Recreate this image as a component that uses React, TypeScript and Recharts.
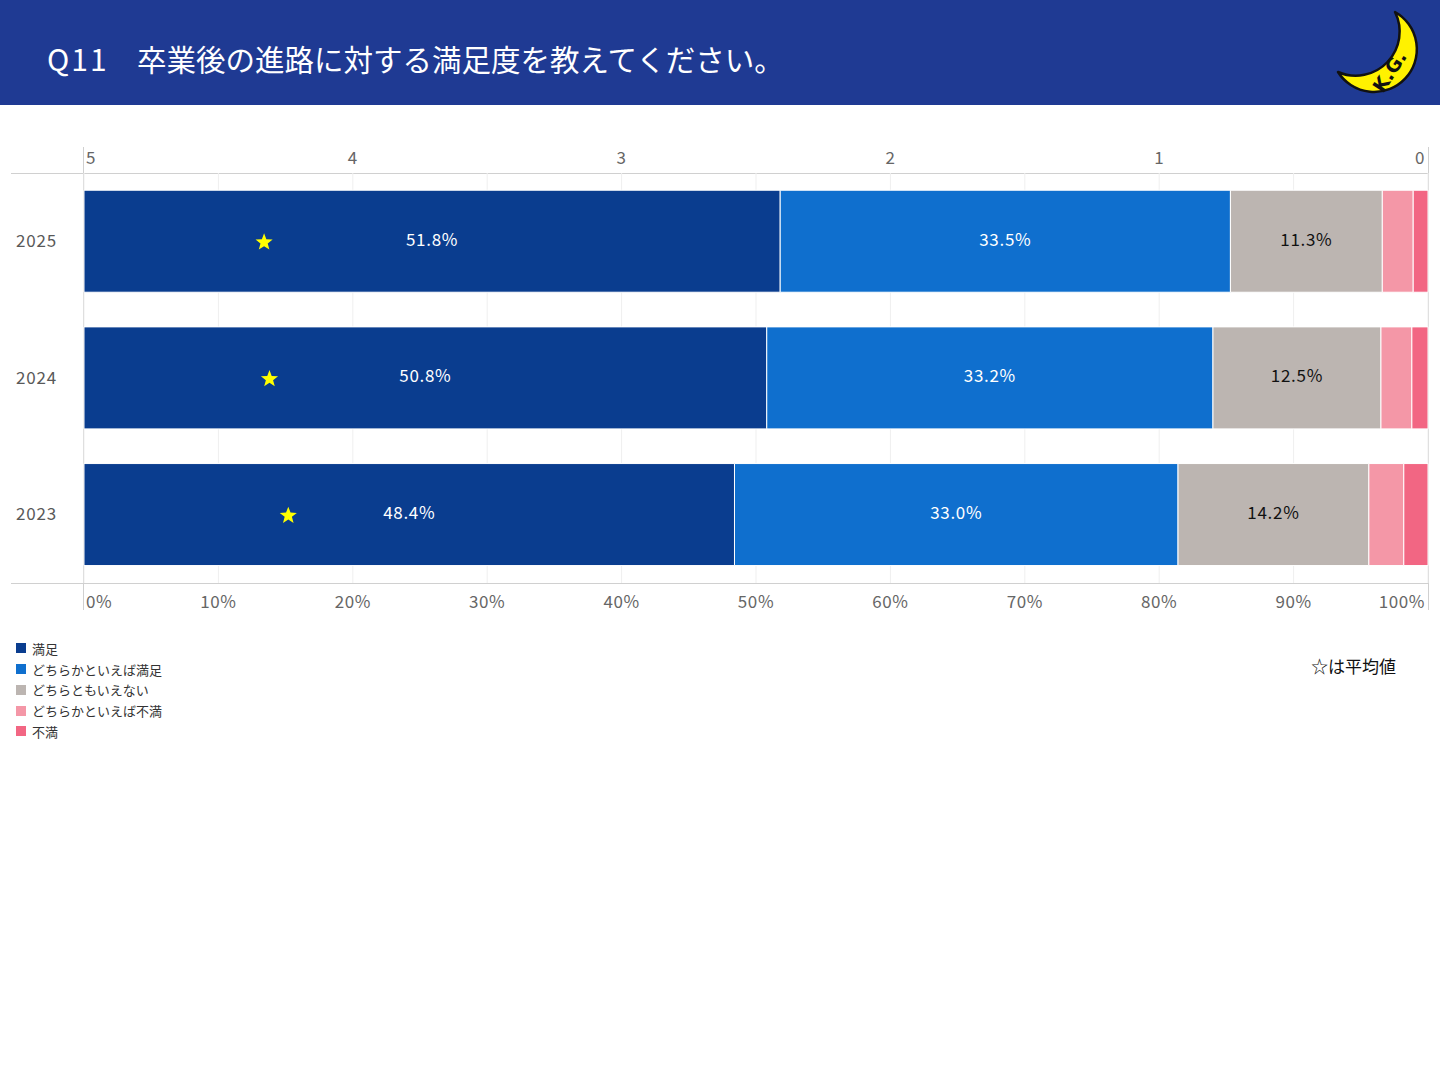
import React from "react";
import { Bar, CartesianGrid, ComposedChart, LabelList, Line, XAxis, YAxis } from "recharts";

const years = ["2025", "2024", "2023"];
const satisfied = [51.8, 50.8, 48.4];
const ratherSatisfied = [33.5, 33.2, 33.0];
const neutral = [11.3, 12.5, 14.2];
const ratherDissatisfied = [2.3, 2.3, 2.6];
const dissatisfied = [1.1, 1.2, 1.8];
const averages = [4.33, 4.31, 4.24];

const pctTicks = [0, 10, 20, 30, 40, 50, 60, 70, 80, 90, 100];
const avgTicks = [0, 1, 2, 3, 4, 5];

const SERIES = [
  { key: "s1", name: "満足", color: "#0a3d8f", label: "#ffffff" },
  { key: "s2", name: "どちらかといえば満足", color: "#0f6fce", label: "#ffffff" },
  { key: "s3", name: "どちらともいえない", color: "#bcb5b1", label: "#111111" },
  { key: "s4", name: "どちらかといえば不満", color: "#f497a7", label: "#111111" },
  { key: "s5", name: "不満", color: "#f26683", label: "#111111" },
];

const rows = years.map((year, i) => ({
  year,
  s1: satisfied[i],
  s2: ratherSatisfied[i],
  s3: neutral[i],
  s4: ratherDissatisfied[i],
  s5: dissatisfied[i],
  avg: averages[i],
}));

const FONT = "'Noto Sans CJK JP', 'Noto Sans', sans-serif";
const AXIS_GREY = "#d0d0d0";

const CHART_TOP = 140;
const CHART_W = 1440;
const TOP_AXIS_H = 33;
const BOTTOM_AXIS_H = 40;
const PLOT_H = 410;

function EdgeTick({ x, y, payload, offset, fmt }: any) {
  let anchor: "start" | "middle" | "end" = "middle";
  let dx = 0;
  if (x < 100) {
    anchor = "start";
    dx = 2;
  } else if (x > 1410) {
    anchor = "end";
    dx = -3;
  }
  return (
    <text
      x={x + dx}
      y={y + offset}
      textAnchor={anchor}
      dominantBaseline="middle"
      fill="#666"
      fontSize={17}
      letterSpacing={0.6}
      fontFamily={FONT}
    >
      {fmt(payload.value)}
    </text>
  );
}

function YearTick({ y, payload }: any) {
  return (
    <text
      x={16}
      y={y + 1}
      dominantBaseline="middle"
      fill="#595959"
      fontSize={17}
      letterSpacing={0.8}
      fontFamily={FONT}
    >
      {payload.value}
    </text>
  );
}

function Star({ cx, cy }: any) {
  if (cx == null || cy == null) return null;
  const pts: string[] = [];
  for (let i = 0; i < 10; i++) {
    const r = i % 2 === 0 ? 9 : 3.8;
    const a = -Math.PI / 2 + (i * Math.PI) / 5;
    pts.push(`${cx + r * Math.cos(a)},${cy + 1 + r * Math.sin(a)}`);
  }
  return <polygon points={pts.join(" ")} fill="#ffff00" />;
}

function makeLabel(color: string) {
  return function SegmentLabel({ x, y, width, height, value }: any) {
    if (value < 5) return null;
    return (
      <text
        x={x + width / 2}
        y={y + height / 2}
        textAnchor="middle"
        dominantBaseline="middle"
        fill={color}
        fontSize={17}
        letterSpacing={0.7}
        fontFamily={FONT}
      >
        {`${value.toFixed(1)}%`}
      </text>
    );
  };
}

function Logo() {
  return (
    <svg width={100} height={105} style={{ position: "absolute", left: 1330, top: 0 }}>
      <path
        d="M65,12 A42.7,42.7 0 1 1 8,72 A44,44 0 0 0 65,12 Z"
        fill="#fff200"
        stroke="#111"
        strokeWidth={2.5}
        strokeLinejoin="round"
      />
      <text
        x={53}
        y={94}
        transform="rotate(-57 53 94)"
        fontSize={19}
        fontWeight="bold"
        fontFamily="'DejaVu Sans', sans-serif"
        fill="#111"
      >
        K.G.
      </text>
    </svg>
  );
}

const line = (style: React.CSSProperties) => (
  <div style={{ position: "absolute", background: AXIS_GREY, ...style }} />
);

export default function App() {
  const plotTop = CHART_TOP + TOP_AXIS_H;
  const plotBottom = plotTop + PLOT_H;
  return (
    <div style={{ position: "relative", width: 1440, height: 1080, background: "#fff", fontFamily: FONT }}>
      <style>{"body{margin:0}"}</style>
      <div
        style={{
          position: "absolute",
          left: 0,
          top: 0,
          width: 1440,
          height: 105,
          background: "#1f3a93",
        }}
      >
        <div
          style={{
            position: "absolute",
            left: 47,
            top: 36,
            color: "#fff",
            fontSize: 30,
            lineHeight: "44px",
            letterSpacing: 2,
            whiteSpace: "nowrap",
          }}
        >
          Q11
        </div>
        <div
          style={{
            position: "absolute",
            left: 137,
            top: 36,
            color: "#fff",
            fontSize: 29.5,
            lineHeight: "44px",
            whiteSpace: "nowrap",
          }}
        >
          卒業後の進路に対する満足度を教えてください。
        </div>
        <Logo />
      </div>

      {line({ left: 11, top: plotTop, width: 1417, height: 1 })}
      {line({ left: 11, top: plotBottom, width: 1417, height: 1 })}
      {line({ left: 83, top: 147, width: 1, height: 463 })}
      {line({ left: 1428, top: 147, width: 1, height: 463 })}

      <div style={{ position: "absolute", left: 0, top: CHART_TOP }}>
        <ComposedChart
          width={CHART_W}
          height={TOP_AXIS_H + PLOT_H + BOTTOM_AXIS_H}
          data={rows}
          layout="vertical"
          margin={{ top: 0, right: 12, bottom: 0, left: 0 }}
          barCategoryGap="12.6%"
        >
          <CartesianGrid xAxisId="pct" horizontal={false} vertical stroke="#efefef" />
          <XAxis
            xAxisId="pct"
            type="number"
            orientation="bottom"
            domain={[0, 100]}
            ticks={pctTicks}
            height={BOTTOM_AXIS_H}
            axisLine={false}
            tickLine={false}
            tickSize={0}
            interval={0}
            tick={<EdgeTick offset={18} fmt={(v: number) => `${v}%`} />}
          />
          <XAxis
            xAxisId="avg"
            type="number"
            orientation="top"
            domain={[0, 5]}
            reversed
            ticks={avgTicks}
            height={TOP_AXIS_H}
            axisLine={false}
            tickLine={false}
            tickSize={0}
            interval={0}
            tick={<EdgeTick offset={-12} fmt={(v: number) => `${v}`} />}
          />
          <YAxis
            type="category"
            dataKey="year"
            width={84}
            axisLine={false}
            tickLine={false}
            tick={<YearTick />}
          />
          {SERIES.map((s) => (
            <Bar
              key={s.key}
              dataKey={s.key}
              name={s.name}
              xAxisId="pct"
              stackId="a"
              fill={s.color}
              stroke="#ffffff"
              strokeWidth={1}
              isAnimationActive={false}
            >
              <LabelList dataKey={s.key} content={makeLabel(s.label)} />
            </Bar>
          ))}
          <Line
            xAxisId="avg"
            dataKey="avg"
            stroke="none"
            dot={<Star />}
            activeDot={false}
            isAnimationActive={false}
          />
        </ComposedChart>
      </div>

      <div style={{ position: "absolute", left: 16, top: 638 }}>
        {SERIES.map((s) => (
          <div
            key={s.key}
            style={{ display: "flex", alignItems: "center", height: 20.75, fontSize: 13, color: "#333" }}
          >
            <span style={{ width: 10, height: 10, background: s.color, marginRight: 6, display: "inline-block" }} />
            {s.name}
          </div>
        ))}
      </div>

      <div style={{ position: "absolute", left: 1311, top: 653, fontSize: 17, color: "#111", whiteSpace: "nowrap" }}>
        ☆は平均値
      </div>
    </div>
  );
}
